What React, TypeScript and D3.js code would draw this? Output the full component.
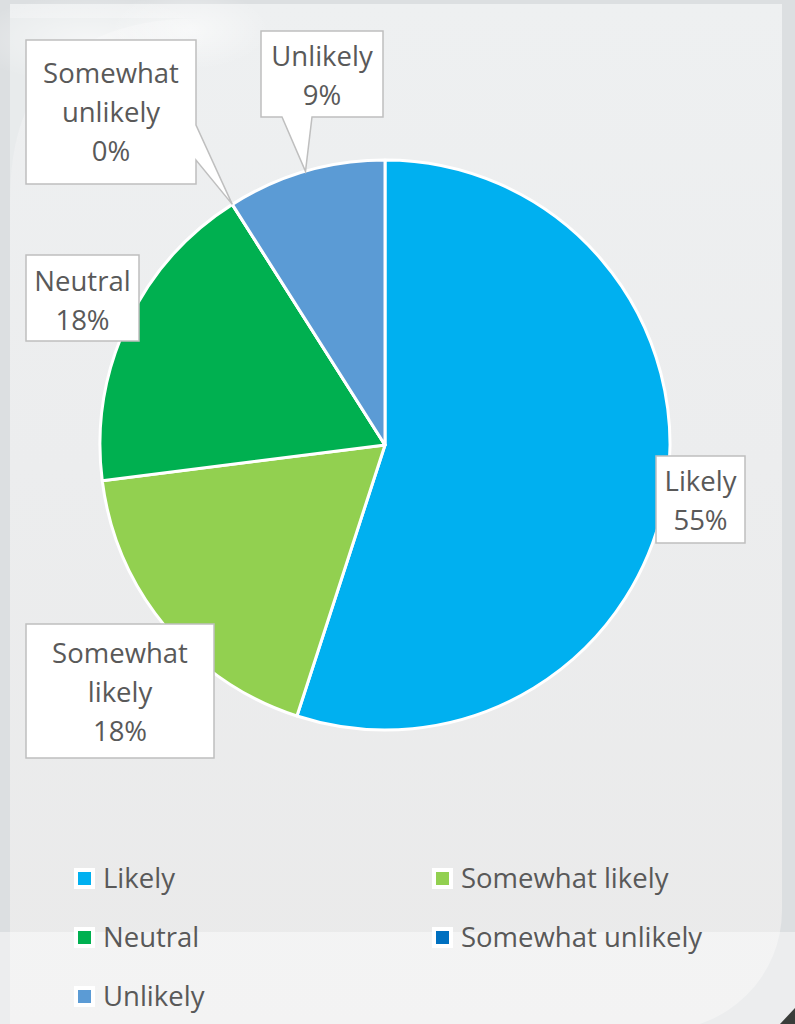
import React from "react";
import * as d3 from "d3";

const categories = ["Likely", "Somewhat likely", "Neutral", "Somewhat unlikely", "Unlikely"];
const percents = [55, 18, 18, 0, 9];
const colors = ["#00B0F0", "#92D050", "#00B050", "#0070C0", "#5B9BD5"];
const labelLines = [["Likely"], ["Somewhat", "likely"], ["Neutral"], ["Somewhat", "unlikely"], ["Unlikely"]];
const legendOrder = [0, 1, 2, 3, 4];

// label box layout: x, y, w, h, first baseline, callout side
const boxes = [
  { x: 656, y: 456, w: 89, h: 87, b: 491, side: "none" },
  { x: 26, y: 624, w: 188, h: 134, b: 663, side: "none" },
  { x: 26, y: 255, w: 113, h: 86, b: 291, side: "none" },
  { x: 26, y: 40, w: 170, h: 144, b: 83, side: "right" },
  { x: 261, y: 31, w: 122, h: 86, b: 66, side: "bottom" },
];

const W = 795, H = 1024;
const cx = 385, cy = 445, R = 285;
const FONT = "'Open Sans', sans-serif";
const FS = 27.5;
const LH = 39;

export default function App() {
  const total = d3.sum(percents);
  const pie = d3.pie<number>().sort(null).value((d) => d).startAngle(0).endAngle(2 * Math.PI);
  const arcs = pie(percents);
  const arcGen = d3.arc<d3.PieArcDatum<number>>().innerRadius(0).outerRadius(R);
  const fmt = d3.format(".0%");

  const boxPath = (i: number) => {
    const b = boxes[i];
    const a = arcs[i];
    const mid = (a.startAngle + a.endAngle) / 2;
    const px = cx + R * Math.sin(mid);
    const py = cy - R * Math.cos(mid);
    const x0 = b.x, y0 = b.y, x1 = b.x + b.w, y1 = b.y + b.h;
    if (b.side === "bottom") {
      return `M${x0},${y0}H${x1}V${y1}H${x0 + 51}L${px},${py}L${x0 + 21},${y1}H${x0}Z`;
    }
    if (b.side === "right") {
      return `M${x0},${y0}H${x1}V${y0 + 85}L${px},${py}L${x1},${y0 + 120}V${y1}H${x0}Z`;
    }
    return `M${x0},${y0}H${x1}V${y1}H${x0}Z`;
  };

  const legendPos = [
    { x: 74, y: 868 },
    { x: 432, y: 868 },
    { x: 74, y: 927 },
    { x: 432, y: 927 },
    { x: 74, y: 986 },
  ];

  return (
    <svg width={W} height={H} style={{ position: "absolute", left: 0, top: 0 }}>
      <defs>
        <linearGradient id="panelg" x1="0" y1="0" x2="0" y2="1">
          <stop offset="0" stopColor="#EEF0F1" />
          <stop offset="0.45" stopColor="#ECEDEE" />
          <stop offset="1" stopColor="#EAEAEA" />
        </linearGradient>
        <radialGradient id="blob" cx="0.5" cy="0.5" r="0.5">
          <stop offset="0" stopColor="#ffffff" stopOpacity="0.55" />
          <stop offset="1" stopColor="#ffffff" stopOpacity="0" />
        </radialGradient>
      </defs>
      <rect x={0} y={0} width={W} height={H} fill="#DCDFE1" />
      <path d={`M10,4H782V910A120,120 0 0 1 662,1030H10Z`} fill="url(#panelg)" />
      <path d="M10,200 Q10,20 200,18 H10Z" fill="#E4E8EA" opacity={0.6} />
      <ellipse cx={90} cy={40} rx={120} ry={45} fill="url(#blob)" />
      <ellipse cx={190} cy={30} rx={80} ry={40} fill="url(#blob)" />
      <rect x={0} y={932} width={W} height={H - 932} fill="#ffffff" opacity={0.45} />
      <path d="M795,1008 L795,1024 L780,1024 Z" fill="#3a3d3a" />

      <g>
        {arcs.map((a, i) => (
          <path
            key={categories[i]}
            d={arcGen(a) || ""}
            transform={`translate(${cx},${cy})`}
            fill={colors[i]}
            stroke="#ffffff"
            strokeWidth={3}
            strokeLinejoin="round"
          />
        ))}
      </g>

      <g fontFamily={FONT} fontSize={FS} fill="#595959" textAnchor="middle">
        {boxes.map((b, i) => {
          const lines = [...labelLines[i], fmt(percents[i] / total)];
          return (
            <g key={categories[i]}>
              <path d={boxPath(i)} fill="#ffffff" stroke="#BFBFBF" strokeWidth={1.5} />
              {lines.map((t, j) => (
                <text key={j} x={b.x + b.w / 2} y={b.b + j * LH}>
                  {t}
                </text>
              ))}
            </g>
          );
        })}
      </g>

      <g fontFamily={FONT} fontSize={FS} fill="#595959">
        {legendOrder.map((i, k) => {
          const p = legendPos[k];
          return (
            <g key={categories[i]}>
              <rect x={p.x} y={p.y} width={21} height={21} fill="#ffffff" />
              <rect x={p.x + 4} y={p.y + 4} width={13} height={13} fill={colors[i]} />
              <text x={p.x + 29} y={p.y + 20}>
                {categories[i]}
              </text>
            </g>
          );
        })}
      </g>
    </svg>
  );
}
